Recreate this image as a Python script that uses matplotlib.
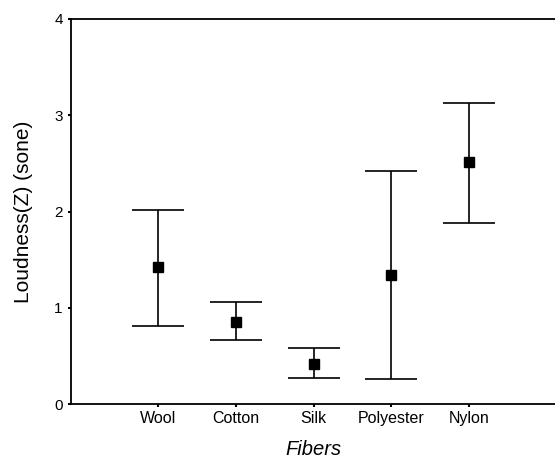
import matplotlib
matplotlib.use("Agg")
import matplotlib.pyplot as plt

fibers = ["Wool", "Cotton", "Silk", "Polyester", "Nylon"]
means = [1.42, 0.855, 0.42, 1.34, 2.51]
upper = [2.02, 1.06, 0.585, 2.42, 3.13]
lower = [0.81, 0.66, 0.27, 0.265, 1.88]

plt.rcParams['font.family'] = ['Liberation Sans', 'DejaVu Sans']

fig = plt.figure(figsize=(5.55, 4.62), dpi=100)
ax = fig.add_axes([0.128, 0.1255, 0.872, 0.8334])

x = list(range(1, len(fibers) + 1))
yerr = [[m - l for m, l in zip(means, lower)], [u - m for u, m in zip(upper, means)]]
ax.errorbar(x, means, yerr=yerr, fmt='s', color='black', ms=7.2, capsize=19,
            elinewidth=1.2, capthick=1.2, mec='black', mfc='black')

ax.set_xlim(-0.115, 6.1)
ax.set_ylim(0, 4)
ax.set_xticks(x)
ax.set_xticklabels(fibers, fontsize=11.5)
ax.set_yticks([0, 1, 2, 3, 4])
ax.set_yticklabels(['0', '1', '2', '3', '4'], fontsize=11, fontweight='medium')
ax.tick_params(direction='out', length=2, width=1.5)
ax.tick_params(axis='x', pad=3)
ax.tick_params(axis='y', pad=4)
ax.spines['right'].set_visible(False)
for s in ['left', 'bottom', 'top']:
    ax.spines[s].set_linewidth(1.3)

ax.set_xlabel("Fibers", fontsize=14.5, fontstyle='italic', labelpad=10)
ax.set_ylabel("Loudness(Z) (sone)", fontsize=15, labelpad=15)

fig.savefig("out.png", dpi=100)
